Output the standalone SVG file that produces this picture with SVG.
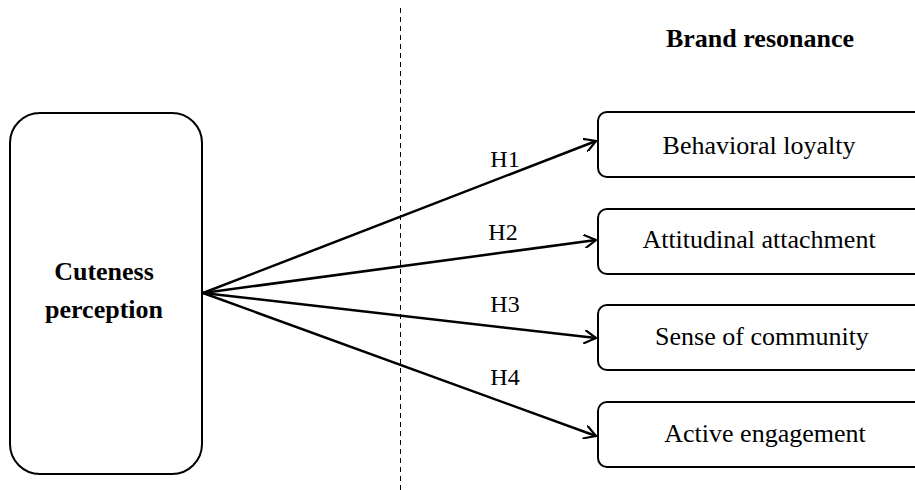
<svg xmlns="http://www.w3.org/2000/svg" width="915" height="490" viewBox="0 0 915 490">
<style>
.box{fill:#fff;stroke:#000;stroke-width:2}
.t{font-family:"Liberation Serif",serif;font-size:26px;fill:#000;text-anchor:middle}
.b{font-weight:bold}
.lbl{font-family:"Liberation Serif",serif;font-size:24px;fill:#000;text-anchor:middle}
.c{stroke:#000;stroke-width:2.5;fill:none}
</style>
<defs>
<marker id="ah" markerWidth="14" markerHeight="14" refX="12" refY="7" orient="auto" markerUnits="userSpaceOnUse">
<path d="M0,0 L12,7 L0,14" fill="none" stroke="#000" stroke-width="2.2"/>
</marker>
</defs>
<line x1="400.5" y1="8" x2="400.5" y2="490" stroke="#000" stroke-width="1" stroke-dasharray="5,4"/>
<text class="t b" x="760" y="47" font-size="25">Brand resonance</text>
<g id="cuteness">
<rect class="box" x="10" y="113" width="192" height="361" rx="30"/>
<text class="t b" x="104" y="280">Cuteness</text>
<text class="t b" x="104" y="318">perception</text>
</g>
<g id="behavioral">
<rect class="box" x="598" y="112" width="330" height="65" rx="9"/>
<text class="t" x="759" y="154">Behavioral loyalty</text>
</g>
<g id="attitudinal">
<rect class="box" x="598" y="209" width="330" height="65" rx="9"/>
<text class="t" x="759" y="248">Attitudinal attachment</text>
</g>
<g id="community">
<rect class="box" x="598" y="305" width="330" height="65" rx="9"/>
<text class="t" x="762" y="345">Sense of community</text>
</g>
<g id="engagement">
<rect class="box" x="598" y="402" width="330" height="65" rx="9"/>
<text class="t" x="765" y="442">Active engagement</text>
</g>
<g id="connectors">
<line class="c" x1="203" y1="293" x2="596" y2="141" marker-end="url(#ah)"/>
<line class="c" x1="203" y1="293" x2="596" y2="240" marker-end="url(#ah)"/>
<line class="c" x1="203" y1="293" x2="596" y2="338" marker-end="url(#ah)"/>
<line class="c" x1="203" y1="293" x2="596" y2="436" marker-end="url(#ah)"/>
<text class="lbl" x="505" y="167">H1</text>
<text class="lbl" x="503" y="240">H2</text>
<text class="lbl" x="505" y="312">H3</text>
<text class="lbl" x="505" y="385">H4</text>
</g>
</svg>
